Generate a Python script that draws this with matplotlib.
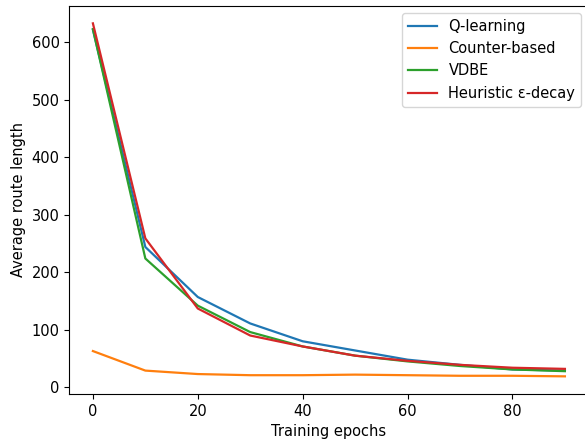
import matplotlib
matplotlib.use("Agg")
import matplotlib.pyplot as plt

plt.rcParams["font.size"] = 10.5
plt.rcParams["lines.linewidth"] = 1.6

epochs = [0, 10, 20, 30, 40, 50, 60, 70, 80, 90]
q_learning = [622, 244, 157, 111, 80, 64, 48, 39, 31, 29]
counter_based = [63, 29, 23, 21, 21, 22, 21, 20, 20, 19]
vdbe = [623, 224, 142, 96, 71, 55, 45, 37, 31, 28]
heuristic = [633, 259, 137, 90, 71, 55, 46, 39, 34, 32]

labels = ["Q-learning", "Counter-based", "VDBE", "Heuristic ε-decay"]

fig = plt.figure(figsize=(5.85, 4.41), dpi=100)
ax = fig.add_axes([69.3 / 585, 1 - 394 / 441, (588.5 - 69.3) / 585, (394 - 5.7) / 441])

ax.plot(epochs, q_learning, color="#1f77b4", label=labels[0])
ax.plot(epochs, counter_based, color="#ff7f0e", label=labels[1])
ax.plot(epochs, vdbe, color="#2ca02c", label=labels[2])
ax.plot(epochs, heuristic, color="#d62728", label=labels[3])

ax.set_xlabel("Training epochs")
ax.set_ylabel("Average route length")
ax.set_yticks([0, 100, 200, 300, 400, 500, 600])
ax.set_xticks([0, 20, 40, 60, 80])

ax.legend(loc="upper right")

fig.savefig("out.png", dpi=100)
